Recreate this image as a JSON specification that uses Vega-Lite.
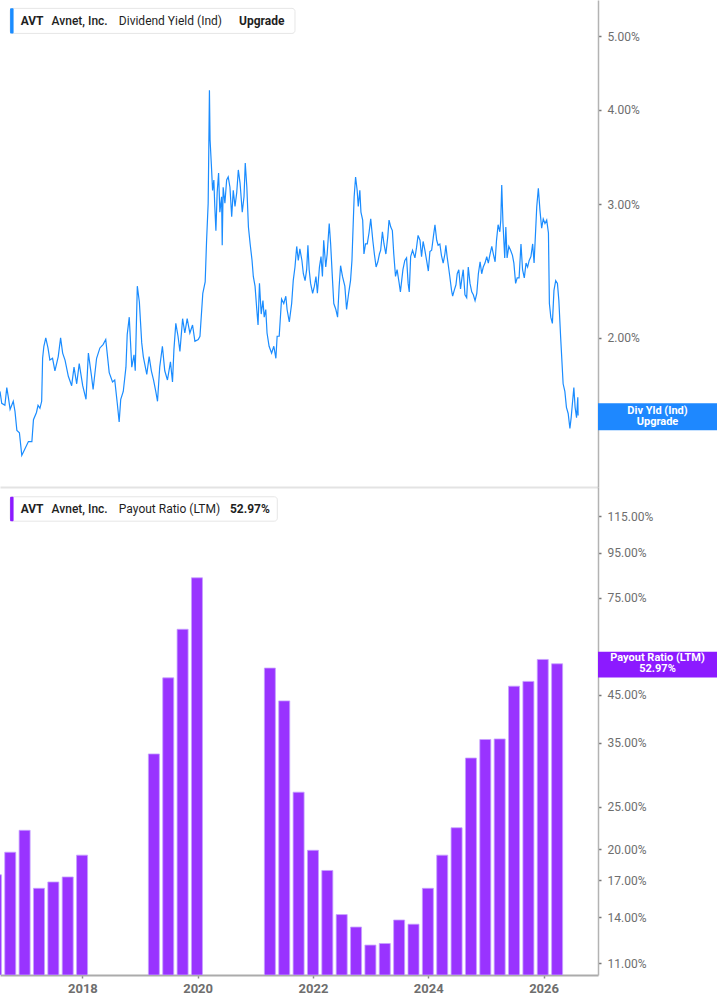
{
  "$schema": "https://vega.github.io/schema/vega-lite/v6.json",
  "background": "white",
  "padding": 0,
  "spacing": 0,
  "bounds": "flush",
  "config": {
    "view": {"stroke": null},
    "font": "Roboto",
    "axis": {"labelFont": "Roboto", "grid": false}
  },
  "datasets": {
    "yield": [
      {"date": "2016-07-28", "yield": 1.70}, {"date": "2016-08-08", "yield": 1.64}, {"date": "2016-08-28", "yield": 1.63},
      {"date": "2016-09-09", "yield": 1.72}, {"date": "2016-09-19", "yield": 1.67}, {"date": "2016-09-30", "yield": 1.61},
      {"date": "2016-10-20", "yield": 1.65}, {"date": "2016-10-31", "yield": 1.60}, {"date": "2016-11-12", "yield": 1.51},
      {"date": "2016-11-28", "yield": 1.50}, {"date": "2016-12-13", "yield": 1.40}, {"date": "2017-01-03", "yield": 1.43},
      {"date": "2017-01-24", "yield": 1.46}, {"date": "2017-02-15", "yield": 1.46}, {"date": "2017-02-25", "yield": 1.56},
      {"date": "2017-03-16", "yield": 1.595}, {"date": "2017-03-26", "yield": 1.63}, {"date": "2017-04-07", "yield": 1.615},
      {"date": "2017-04-18", "yield": 1.65}, {"date": "2017-04-24", "yield": 1.88}, {"date": "2017-05-02", "yield": 1.95},
      {"date": "2017-05-14", "yield": 2.00}, {"date": "2017-05-28", "yield": 1.94}, {"date": "2017-06-09", "yield": 1.87},
      {"date": "2017-06-26", "yield": 1.88}, {"date": "2017-07-11", "yield": 1.81}, {"date": "2017-08-01", "yield": 1.89},
      {"date": "2017-08-16", "yield": 2.00}, {"date": "2017-08-29", "yield": 1.91}, {"date": "2017-09-13", "yield": 1.87},
      {"date": "2017-10-04", "yield": 1.78}, {"date": "2017-10-25", "yield": 1.73}, {"date": "2017-11-09", "yield": 1.83},
      {"date": "2017-11-26", "yield": 1.74}, {"date": "2017-12-12", "yield": 1.85}, {"date": "2018-01-03", "yield": 1.73},
      {"date": "2018-01-24", "yield": 1.66}, {"date": "2018-02-08", "yield": 1.91}, {"date": "2018-02-28", "yield": 1.78},
      {"date": "2018-03-10", "yield": 1.71}, {"date": "2018-04-01", "yield": 1.88}, {"date": "2018-04-22", "yield": 1.94},
      {"date": "2018-05-12", "yield": 1.96}, {"date": "2018-05-29", "yield": 1.99}, {"date": "2018-06-20", "yield": 1.80},
      {"date": "2018-07-11", "yield": 1.75}, {"date": "2018-07-25", "yield": 1.76}, {"date": "2018-08-10", "yield": 1.64},
      {"date": "2018-08-22", "yield": 1.55}, {"date": "2018-09-01", "yield": 1.66}, {"date": "2018-09-17", "yield": 1.70},
      {"date": "2018-10-04", "yield": 1.83}, {"date": "2018-10-12", "yield": 2.02}, {"date": "2018-10-25", "yield": 2.13},
      {"date": "2018-11-10", "yield": 1.83}, {"date": "2018-11-24", "yield": 1.90}, {"date": "2018-12-02", "yield": 1.81},
      {"date": "2018-12-15", "yield": 2.34}, {"date": "2018-12-28", "yield": 2.23}, {"date": "2019-01-12", "yield": 1.97},
      {"date": "2019-01-22", "yield": 1.89}, {"date": "2019-02-13", "yield": 1.79}, {"date": "2019-02-28", "yield": 1.89},
      {"date": "2019-03-14", "yield": 1.81}, {"date": "2019-03-28", "yield": 1.76}, {"date": "2019-04-11", "yield": 1.70},
      {"date": "2019-04-22", "yield": 1.65}, {"date": "2019-05-06", "yield": 1.83}, {"date": "2019-05-23", "yield": 1.95},
      {"date": "2019-06-07", "yield": 1.81}, {"date": "2019-06-24", "yield": 1.76}, {"date": "2019-07-13", "yield": 1.86},
      {"date": "2019-07-26", "yield": 1.75}, {"date": "2019-08-04", "yield": 1.93}, {"date": "2019-08-16", "yield": 2.09},
      {"date": "2019-08-30", "yield": 2.01}, {"date": "2019-09-11", "yield": 1.92}, {"date": "2019-09-28", "yield": 2.12},
      {"date": "2019-10-12", "yield": 2.03}, {"date": "2019-10-27", "yield": 2.12}, {"date": "2019-11-13", "yield": 2.03},
      {"date": "2019-11-30", "yield": 2.08}, {"date": "2019-12-15", "yield": 1.98}, {"date": "2020-01-05", "yield": 1.99},
      {"date": "2020-01-16", "yield": 2.01}, {"date": "2020-02-03", "yield": 2.29}, {"date": "2020-02-18", "yield": 2.37},
      {"date": "2020-02-27", "yield": 2.69}, {"date": "2020-03-08", "yield": 3.01}, {"date": "2020-03-12", "yield": 3.56},
      {"date": "2020-03-16", "yield": 4.24}, {"date": "2020-03-20", "yield": 3.65}, {"date": "2020-03-28", "yield": 3.39},
      {"date": "2020-04-05", "yield": 3.13}, {"date": "2020-04-13", "yield": 3.23}, {"date": "2020-04-19", "yield": 2.98},
      {"date": "2020-04-26", "yield": 2.77}, {"date": "2020-05-04", "yield": 3.11}, {"date": "2020-05-13", "yield": 3.30},
      {"date": "2020-05-21", "yield": 2.93}, {"date": "2020-06-01", "yield": 3.07}, {"date": "2020-06-05", "yield": 2.65},
      {"date": "2020-06-11", "yield": 3.16}, {"date": "2020-06-22", "yield": 3.01}, {"date": "2020-07-03", "yield": 3.23},
      {"date": "2020-07-13", "yield": 3.26}, {"date": "2020-07-24", "yield": 3.16}, {"date": "2020-08-04", "yield": 2.89},
      {"date": "2020-08-14", "yield": 3.13}, {"date": "2020-08-25", "yield": 2.98}, {"date": "2020-09-05", "yield": 3.11},
      {"date": "2020-09-15", "yield": 3.33}, {"date": "2020-09-26", "yield": 3.20}, {"date": "2020-10-10", "yield": 2.93},
      {"date": "2020-10-21", "yield": 3.07}, {"date": "2020-10-29", "yield": 3.40}, {"date": "2020-11-08", "yield": 3.16},
      {"date": "2020-11-18", "yield": 2.80}, {"date": "2020-11-29", "yield": 2.66}, {"date": "2020-12-11", "yield": 2.53},
      {"date": "2020-12-19", "yield": 2.41}, {"date": "2020-12-30", "yield": 2.34}, {"date": "2021-01-10", "yield": 2.18},
      {"date": "2021-01-18", "yield": 2.08}, {"date": "2021-01-27", "yield": 2.36}, {"date": "2021-02-07", "yield": 2.15},
      {"date": "2021-02-18", "yield": 2.24}, {"date": "2021-02-26", "yield": 2.13}, {"date": "2021-03-08", "yield": 2.18},
      {"date": "2021-03-16", "yield": 2.03}, {"date": "2021-03-29", "yield": 1.95}, {"date": "2021-04-14", "yield": 1.91},
      {"date": "2021-04-28", "yield": 1.95}, {"date": "2021-05-11", "yield": 1.88}, {"date": "2021-05-19", "yield": 2.01},
      {"date": "2021-06-01", "yield": 2.01}, {"date": "2021-06-16", "yield": 2.25}, {"date": "2021-06-30", "yield": 2.22},
      {"date": "2021-07-13", "yield": 2.27}, {"date": "2021-07-21", "yield": 2.18}, {"date": "2021-08-04", "yield": 2.10},
      {"date": "2021-08-19", "yield": 2.22}, {"date": "2021-08-29", "yield": 2.38}, {"date": "2021-09-09", "yield": 2.48},
      {"date": "2021-09-20", "yield": 2.64}, {"date": "2021-09-30", "yield": 2.53}, {"date": "2021-10-10", "yield": 2.62},
      {"date": "2021-10-23", "yield": 2.53}, {"date": "2021-11-01", "yield": 2.43}, {"date": "2021-11-12", "yield": 2.38},
      {"date": "2021-11-22", "yield": 2.46}, {"date": "2021-11-30", "yield": 2.65}, {"date": "2021-12-08", "yield": 2.46},
      {"date": "2021-12-17", "yield": 2.36}, {"date": "2021-12-30", "yield": 2.29}, {"date": "2022-01-10", "yield": 2.34},
      {"date": "2022-01-20", "yield": 2.41}, {"date": "2022-01-29", "yield": 2.29}, {"date": "2022-02-11", "yield": 2.48},
      {"date": "2022-02-21", "yield": 2.56}, {"date": "2022-03-02", "yield": 2.41}, {"date": "2022-03-10", "yield": 2.69},
      {"date": "2022-03-23", "yield": 2.48}, {"date": "2022-04-01", "yield": 2.58}, {"date": "2022-04-14", "yield": 2.83},
      {"date": "2022-04-23", "yield": 2.66}, {"date": "2022-05-05", "yield": 2.38}, {"date": "2022-05-13", "yield": 2.22},
      {"date": "2022-05-26", "yield": 2.18}, {"date": "2022-06-06", "yield": 2.13}, {"date": "2022-06-16", "yield": 2.34},
      {"date": "2022-06-25", "yield": 2.49}, {"date": "2022-07-07", "yield": 2.41}, {"date": "2022-07-22", "yield": 2.34},
      {"date": "2022-08-02", "yield": 2.18}, {"date": "2022-08-15", "yield": 2.29}, {"date": "2022-08-27", "yield": 2.38},
      {"date": "2022-09-05", "yield": 2.53}, {"date": "2022-09-13", "yield": 2.83}, {"date": "2022-09-19", "yield": 3.07},
      {"date": "2022-09-28", "yield": 3.26}, {"date": "2022-10-08", "yield": 3.13}, {"date": "2022-10-15", "yield": 2.98},
      {"date": "2022-10-25", "yield": 3.13}, {"date": "2022-11-01", "yield": 2.93}, {"date": "2022-11-12", "yield": 2.86},
      {"date": "2022-11-20", "yield": 2.58}, {"date": "2022-11-30", "yield": 2.66}, {"date": "2022-12-11", "yield": 2.66},
      {"date": "2022-12-22", "yield": 2.75}, {"date": "2023-01-02", "yield": 2.87}, {"date": "2023-01-15", "yield": 2.69},
      {"date": "2023-01-25", "yield": 2.58}, {"date": "2023-02-05", "yield": 2.48}, {"date": "2023-02-16", "yield": 2.52},
      {"date": "2023-02-26", "yield": 2.58}, {"date": "2023-03-06", "yield": 2.61}, {"date": "2023-03-17", "yield": 2.76},
      {"date": "2023-03-27", "yield": 2.66}, {"date": "2023-04-08", "yield": 2.58}, {"date": "2023-04-20", "yield": 2.72},
      {"date": "2023-04-28", "yield": 2.86}, {"date": "2023-05-09", "yield": 2.80}, {"date": "2023-05-19", "yield": 2.77},
      {"date": "2023-05-28", "yield": 2.58}, {"date": "2023-06-08", "yield": 2.41}, {"date": "2023-06-18", "yield": 2.46},
      {"date": "2023-06-30", "yield": 2.37}, {"date": "2023-07-09", "yield": 2.30}, {"date": "2023-07-25", "yield": 2.46},
      {"date": "2023-08-06", "yield": 2.53}, {"date": "2023-08-17", "yield": 2.55}, {"date": "2023-08-27", "yield": 2.36},
      {"date": "2023-09-03", "yield": 2.30}, {"date": "2023-09-12", "yield": 2.56}, {"date": "2023-09-24", "yield": 2.61},
      {"date": "2023-10-09", "yield": 2.55}, {"date": "2023-10-19", "yield": 2.63}, {"date": "2023-10-29", "yield": 2.73},
      {"date": "2023-11-10", "yield": 2.69}, {"date": "2023-11-20", "yield": 2.56}, {"date": "2023-11-30", "yield": 2.68},
      {"date": "2023-12-11", "yield": 2.61}, {"date": "2023-12-22", "yield": 2.53}, {"date": "2024-01-02", "yield": 2.45},
      {"date": "2024-01-12", "yield": 2.60}, {"date": "2024-01-23", "yield": 2.61}, {"date": "2024-02-03", "yield": 2.72},
      {"date": "2024-02-13", "yield": 2.82}, {"date": "2024-02-24", "yield": 2.69}, {"date": "2024-03-04", "yield": 2.65},
      {"date": "2024-03-15", "yield": 2.66}, {"date": "2024-03-25", "yield": 2.57}, {"date": "2024-04-05", "yield": 2.51},
      {"date": "2024-04-16", "yield": 2.58}, {"date": "2024-04-22", "yield": 2.65}, {"date": "2024-04-30", "yield": 2.56},
      {"date": "2024-05-09", "yield": 2.48}, {"date": "2024-05-17", "yield": 2.41}, {"date": "2024-05-28", "yield": 2.31},
      {"date": "2024-06-04", "yield": 2.27}, {"date": "2024-06-14", "yield": 2.31}, {"date": "2024-06-25", "yield": 2.35},
      {"date": "2024-07-03", "yield": 2.43}, {"date": "2024-07-13", "yield": 2.46}, {"date": "2024-07-24", "yield": 2.32},
      {"date": "2024-08-02", "yield": 2.40}, {"date": "2024-08-10", "yield": 2.46}, {"date": "2024-08-21", "yield": 2.28},
      {"date": "2024-09-01", "yield": 2.26}, {"date": "2024-09-11", "yield": 2.48}, {"date": "2024-09-22", "yield": 2.36},
      {"date": "2024-10-03", "yield": 2.30}, {"date": "2024-10-13", "yield": 2.28}, {"date": "2024-10-24", "yield": 2.24},
      {"date": "2024-11-04", "yield": 2.29}, {"date": "2024-11-14", "yield": 2.43}, {"date": "2024-11-25", "yield": 2.52},
      {"date": "2024-12-05", "yield": 2.43}, {"date": "2024-12-15", "yield": 2.48}, {"date": "2024-12-26", "yield": 2.51},
      {"date": "2025-01-06", "yield": 2.56}, {"date": "2025-01-16", "yield": 2.51}, {"date": "2025-01-27", "yield": 2.58},
      {"date": "2025-02-07", "yield": 2.64}, {"date": "2025-02-17", "yield": 2.58}, {"date": "2025-02-28", "yield": 2.52},
      {"date": "2025-03-09", "yield": 2.69}, {"date": "2025-03-19", "yield": 2.82}, {"date": "2025-03-30", "yield": 2.76},
      {"date": "2025-04-05", "yield": 2.86}, {"date": "2025-04-11", "yield": 3.18}, {"date": "2025-04-19", "yield": 2.83},
      {"date": "2025-04-30", "yield": 2.55}, {"date": "2025-05-07", "yield": 2.80}, {"date": "2025-05-15", "yield": 2.55},
      {"date": "2025-05-26", "yield": 2.64}, {"date": "2025-06-06", "yield": 2.61}, {"date": "2025-06-18", "yield": 2.57},
      {"date": "2025-06-27", "yield": 2.51}, {"date": "2025-07-08", "yield": 2.36}, {"date": "2025-07-18", "yield": 2.40},
      {"date": "2025-07-30", "yield": 2.40}, {"date": "2025-08-11", "yield": 2.66}, {"date": "2025-08-21", "yield": 2.46},
      {"date": "2025-09-01", "yield": 2.40}, {"date": "2025-09-12", "yield": 2.51}, {"date": "2025-09-22", "yield": 2.48},
      {"date": "2025-10-02", "yield": 2.53}, {"date": "2025-10-13", "yield": 2.56}, {"date": "2025-10-24", "yield": 2.66},
      {"date": "2025-11-02", "yield": 2.51}, {"date": "2025-11-10", "yield": 2.72}, {"date": "2025-11-19", "yield": 2.98},
      {"date": "2025-11-29", "yield": 3.15}, {"date": "2025-12-09", "yield": 2.95}, {"date": "2025-12-20", "yield": 2.79},
      {"date": "2025-12-30", "yield": 2.87}, {"date": "2026-01-10", "yield": 2.83}, {"date": "2026-01-21", "yield": 2.86},
      {"date": "2026-02-01", "yield": 2.75}, {"date": "2026-02-07", "yield": 2.22}, {"date": "2026-02-16", "yield": 2.13},
      {"date": "2026-02-26", "yield": 2.09}, {"date": "2026-03-08", "yield": 2.31}, {"date": "2026-03-19", "yield": 2.38},
      {"date": "2026-03-30", "yield": 2.36}, {"date": "2026-04-08", "yield": 2.24}, {"date": "2026-04-19", "yield": 2.01},
      {"date": "2026-04-27", "yield": 1.87}, {"date": "2026-05-05", "yield": 1.74}, {"date": "2026-05-16", "yield": 1.70},
      {"date": "2026-05-26", "yield": 1.62}, {"date": "2026-06-06", "yield": 1.59}, {"date": "2026-06-17", "yield": 1.52},
      {"date": "2026-06-25", "yield": 1.57}, {"date": "2026-07-03", "yield": 1.64}, {"date": "2026-07-12", "yield": 1.72},
      {"date": "2026-07-20", "yield": 1.62}, {"date": "2026-07-29", "yield": 1.57}, {"date": "2026-08-06", "yield": 1.67},
      {"date": "2026-08-08", "yield": 1.58}
    ],
    "payout": [
      {"date": "2016-07-02", "payout": 17.5},
      {"date": "2016-10-01", "payout": 19.7},
      {"date": "2016-12-31", "payout": 22.1},
      {"date": "2017-04-01", "payout": 16.3},
      {"date": "2017-07-01", "payout": 16.85},
      {"date": "2017-09-30", "payout": 17.3},
      {"date": "2017-12-30", "payout": 19.4},
      {"date": "2019-03-30", "payout": 33.0},
      {"date": "2019-06-29", "payout": 49.2},
      {"date": "2019-09-28", "payout": 63.5},
      {"date": "2019-12-28", "payout": 83.2},
      {"date": "2021-04-03", "payout": 51.8},
      {"date": "2021-07-03", "payout": 43.6},
      {"date": "2021-10-02", "payout": 27.0},
      {"date": "2022-01-01", "payout": 19.9},
      {"date": "2022-04-02", "payout": 17.9},
      {"date": "2022-07-02", "payout": 14.2},
      {"date": "2022-10-01", "payout": 13.3},
      {"date": "2022-12-31", "payout": 12.1},
      {"date": "2023-04-01", "payout": 12.2},
      {"date": "2023-07-01", "payout": 13.8},
      {"date": "2023-09-30", "payout": 13.5},
      {"date": "2023-12-30", "payout": 16.3},
      {"date": "2024-03-30", "payout": 19.4},
      {"date": "2024-06-29", "payout": 22.4},
      {"date": "2024-09-28", "payout": 32.3},
      {"date": "2024-12-28", "payout": 35.6},
      {"date": "2025-03-29", "payout": 35.7},
      {"date": "2025-06-28", "payout": 47.1},
      {"date": "2025-09-27", "payout": 48.3},
      {"date": "2025-12-27", "payout": 54.2},
      {"date": "2026-03-28", "payout": 52.97}
    ]
  },
  "vconcat": [
    {
      "width": 598,
      "height": 487,
      "layer": [
        {
          "data": {"name": "yield"},
          "mark": {"type": "line", "color": "#1a8cff", "strokeWidth": 1.2, "clip": true},
          "encoding": {
            "x": {
              "field": "date", "type": "temporal",
              "scale": {"domain": [{"year": 2016, "month": 7, "date": 28}, {"year": 2026, "month": 12, "date": 12}], "nice": false},
              "axis": {"title": null, "labels": false, "ticks": false, "domainColor": "#e3e3e3", "domainWidth": 2}
            },
            "y": {
              "field": "yield", "type": "quantitative",
              "scale": {"type": "log", "domain": [1.272, 5.578], "nice": false},
              "axis": {
                "orient": "right", "title": null, "values": [2, 3, 4, 5],
                "labelExpr": "format(datum.value, '.2f') + '%'",
                "labelOverlap": false, "labelFontSize": 12, "labelColor": "#6e6e6e", "labelPadding": 6,
                "tickSize": 3, "tickWidth": 1.5, "tickColor": "#777777",
                "domainColor": "#b3b3b3", "domainWidth": 1.5
              }
            }
          }
        },
        {
          "data": {"values": [{}]},
          "mark": {"type": "rect", "fill": "white", "stroke": "#e6e6e6", "strokeWidth": 1, "cornerRadius": 3},
          "encoding": {
            "x": {"datum": {"year": 2016, "month": 9, "date": 30}, "type": "temporal"},
            "x2": {"datum": {"year": 2021, "month": 9, "date": 9}},
            "y": {"datum": 5.438},
            "y2": {"datum": 5.04}
          }
        },
        {
          "data": {"values": [{}]},
          "mark": {"type": "rect", "fill": "#1a8cff", "cornerRadius": 1},
          "encoding": {
            "x": {"datum": {"year": 2016, "month": 9, "date": 30}, "type": "temporal"},
            "x2": {"datum": {"year": 2016, "month": 10, "date": 22}},
            "y": {"datum": 5.438},
            "y2": {"datum": 5.04}
          }
        },
        {
          "data": {"values": [{}]},
          "mark": {"type": "text", "text": "AVT", "align": "left", "baseline": "middle", "font": "Roboto", "fontSize": 12, "fontWeight": "bold", "color": "#1f1f1f"},
          "encoding": {"x": {"datum": {"year": 2016, "month": 12, "date": 6}, "type": "temporal"}, "y": {"datum": 5.23}}
        },
        {
          "data": {"values": [{}]},
          "mark": {"type": "text", "text": "Avnet, Inc.", "align": "left", "baseline": "middle", "font": "Roboto", "fontSize": 12, "fontWeight": 500, "color": "#1f1f1f"},
          "encoding": {"x": {"datum": {"year": 2017, "month": 6, "date": 20}, "type": "temporal"}, "y": {"datum": 5.23}}
        },
        {
          "data": {"values": [{}]},
          "mark": {"type": "text", "text": "Dividend Yield (Ind)", "align": "left", "baseline": "middle", "font": "Roboto", "fontSize": 12, "fontWeight": "normal", "color": "#1f1f1f"},
          "encoding": {"x": {"datum": {"year": 2018, "month": 8, "date": 20}, "type": "temporal"}, "y": {"datum": 5.23}}
        },
        {
          "data": {"values": [{}]},
          "mark": {"type": "text", "text": "Upgrade", "align": "left", "baseline": "middle", "font": "Roboto", "fontSize": 12, "fontWeight": "bold", "color": "#1f1f1f"},
          "encoding": {"x": {"datum": {"year": 2020, "month": 9, "date": 20}, "type": "temporal"}, "y": {"datum": 5.23}}
        },
        {
          "data": {"values": [{}]},
          "mark": {"type": "rect", "fill": "#1e88ff", "x2Offset": 119},
          "encoding": {
            "x": {"datum": {"year": 2026, "month": 12, "date": 12}, "type": "temporal"},
            "x2": {"datum": {"year": 2026, "month": 12, "date": 12}},
            "y": {"datum": 1.640},
            "y2": {"datum": 1.511}
          }
        },
        {
          "data": {"values": [{}]},
          "mark": {"type": "text", "text": ["Div Yld (Ind)", "Upgrade"], "align": "center", "baseline": "middle", "lineHeight": 11, "dx": 59.5, "dy": -5.5, "font": "Roboto", "fontSize": 11, "fontWeight": "bold", "color": "white"},
          "encoding": {"x": {"datum": {"year": 2026, "month": 12, "date": 12}, "type": "temporal"}, "y": {"datum": 1.574}}
        }
      ]
    },
    {
      "width": 598,
      "height": 488,
      "layer": [
        {
          "data": {"name": "payout"},
          "mark": {"type": "bar", "width": 11, "color": "#9933ff", "stroke": "#c7a1ff", "strokeWidth": 0.8, "clip": true},
          "encoding": {
            "x": {
              "field": "date", "type": "temporal",
              "scale": {"domain": [{"year": 2016, "month": 7, "date": 28}, {"year": 2026, "month": 12, "date": 12}], "nice": false, "padding": 0},
              "axis": {
                "title": null, "format": "%Y",
                "values": [{"year": 2018}, {"year": 2020}, {"year": 2022}, {"year": 2024}, {"year": 2026}],
                "labelFontSize": 13, "labelFontWeight": "bold", "labelColor": "#6e6e6e", "labelPadding": 4, "labelFlush": false,
                "tickSize": 3, "tickWidth": 1.5, "tickColor": "#888888",
                "domainColor": "#ababab", "domainWidth": 2
              }
            },
            "y": {
              "field": "payout", "type": "quantitative",
              "scale": {"type": "log", "domain": [10.34, 134.0], "nice": false},
              "axis": {
                "orient": "right", "title": null, "values": [11, 14, 17, 20, 25, 35, 45, 75, 95, 115],
                "labelExpr": "format(datum.value, '.2f') + '%'",
                "labelOverlap": false, "labelFontSize": 12, "labelColor": "#6e6e6e", "labelPadding": 6,
                "tickSize": 3, "tickWidth": 1.5, "tickColor": "#777777",
                "domainColor": "#b3b3b3", "domainWidth": 1.5
              }
            },
            "y2": {"datum": 10.34}
          }
        },
        {
          "data": {"values": [{}]},
          "mark": {"type": "rect", "fill": "white", "stroke": "#e6e6e6", "strokeWidth": 1, "cornerRadius": 3},
          "encoding": {
            "x": {"datum": {"year": 2016, "month": 9, "date": 30}, "type": "temporal"},
            "x2": {"datum": {"year": 2021, "month": 5, "date": 20}},
            "y": {"datum": 127.3},
            "y2": {"datum": 112.0}
          }
        },
        {
          "data": {"values": [{}]},
          "mark": {"type": "rect", "fill": "#8c1aff", "cornerRadius": 1},
          "encoding": {
            "x": {"datum": {"year": 2016, "month": 9, "date": 30}, "type": "temporal"},
            "x2": {"datum": {"year": 2016, "month": 10, "date": 22}},
            "y": {"datum": 127.3},
            "y2": {"datum": 112.0}
          }
        },
        {
          "data": {"values": [{}]},
          "mark": {"type": "text", "text": "AVT", "align": "left", "baseline": "middle", "font": "Roboto", "fontSize": 12, "fontWeight": "bold", "color": "#1f1f1f"},
          "encoding": {"x": {"datum": {"year": 2016, "month": 12, "date": 6}, "type": "temporal"}, "y": {"datum": 119.4}}
        },
        {
          "data": {"values": [{}]},
          "mark": {"type": "text", "text": "Avnet, Inc.", "align": "left", "baseline": "middle", "font": "Roboto", "fontSize": 12, "fontWeight": 500, "color": "#1f1f1f"},
          "encoding": {"x": {"datum": {"year": 2017, "month": 6, "date": 20}, "type": "temporal"}, "y": {"datum": 119.4}}
        },
        {
          "data": {"values": [{}]},
          "mark": {"type": "text", "text": "Payout Ratio (LTM)", "align": "left", "baseline": "middle", "font": "Roboto", "fontSize": 12, "fontWeight": "normal", "color": "#1f1f1f"},
          "encoding": {"x": {"datum": {"year": 2018, "month": 8, "date": 20}, "type": "temporal"}, "y": {"datum": 119.4}}
        },
        {
          "data": {"values": [{}]},
          "mark": {"type": "text", "text": "52.97%", "align": "left", "baseline": "middle", "font": "Roboto", "fontSize": 12, "fontWeight": "bold", "color": "#1f1f1f"},
          "encoding": {"x": {"datum": {"year": 2020, "month": 7, "date": 24}, "type": "temporal"}, "y": {"datum": 119.4}}
        },
        {
          "data": {"values": [{}]},
          "mark": {"type": "rect", "fill": "#8c1aff", "x2Offset": 119},
          "encoding": {
            "x": {"datum": {"year": 2026, "month": 12, "date": 12}, "type": "temporal"},
            "x2": {"datum": {"year": 2026, "month": 12, "date": 12}},
            "y": {"datum": 56.4},
            "y2": {"datum": 49.3}
          }
        },
        {
          "data": {"values": [{}]},
          "mark": {"type": "text", "text": ["Payout Ratio (LTM)", "52.97%"], "align": "center", "baseline": "middle", "lineHeight": 11, "dx": 59.5, "dy": -5.5, "font": "Roboto", "fontSize": 11, "fontWeight": "bold", "color": "white"},
          "encoding": {"x": {"datum": {"year": 2026, "month": 12, "date": 12}, "type": "temporal"}, "y": {"datum": 52.97}}
        }
      ]
    }
  ]
}
